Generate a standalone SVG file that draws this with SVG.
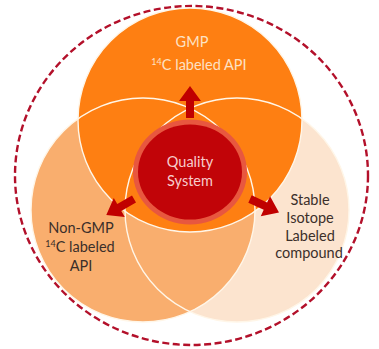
<svg xmlns="http://www.w3.org/2000/svg" width="379" height="349" viewBox="0 0 379 349">
<defs>
<style>
.venn-outline{fill:none;stroke:#fff6e8;stroke-width:1.4}
.lbl{font-family:Lato,"Liberation Sans",sans-serif;font-size:14.5px;text-anchor:middle}
.dark{fill:#3b2f2a}
.cream{fill:#fde2c4}
.pink{fill:#f7cccc}
.arrow{fill:#c00000}
</style>
<path id="arr" d="M0,-4 L17,-4 L17,-11 L32,0 L17,11 L17,4 L0,4 Z"/>
</defs>
<rect width="379" height="349" fill="#ffffff"/>
<g id="boundary">
<ellipse cx="191.5" cy="175.5" rx="176.5" ry="169.5" fill="none" stroke="#b3102a" stroke-width="2.4" stroke-dasharray="7 3.5"/>
</g>
<g id="stable-isotope">
<circle cx="237" cy="210" r="112" fill="#fce4cf"/>
</g>
<g id="non-gmp">
<circle cx="143" cy="210" r="112" fill="#f9ae6e"/>
</g>
<g id="gmp">
<circle cx="190" cy="120" r="112" fill="#fe7f12"/>
</g>
<g id="outlines">
<circle class="venn-outline" cx="237" cy="210" r="112"/>
<circle class="venn-outline" cx="143" cy="210" r="112"/>
<circle class="venn-outline" cx="190" cy="120" r="112"/>
</g>
<g id="quality-system">
<ellipse cx="190" cy="172" rx="57" ry="52.5" fill="#e8573f"/>
<ellipse cx="190" cy="172" rx="52" ry="47.5" fill="#c10408"/>
<text class="lbl pink" x="190" y="167" font-size="15">Quality</text>
<text class="lbl pink" x="190" y="186" font-size="15">System</text>
</g>
<g id="connectors">
<use href="#arr" class="arrow" transform="translate(190,118) rotate(-90)"/>
<use href="#arr" class="arrow" transform="translate(134,199) rotate(150)"/>
<use href="#arr" class="arrow" transform="translate(250,199) rotate(25)"/>
</g>
<g id="gmp-label">
<text class="lbl cream" x="192" y="47">GMP</text>
<text class="lbl cream" x="199" y="70"><tspan font-size="9" dy="-5">14</tspan><tspan dy="5">C labeled API</tspan></text>
</g>
<g id="non-gmp-label">
<text class="lbl dark" x="81" y="233">Non-GMP</text>
<text class="lbl dark" x="80" y="252"><tspan font-size="9" dy="-5">14</tspan><tspan dy="5">C labeled</tspan></text>
<text class="lbl dark" x="81" y="271">API</text>
</g>
<g id="stable-label">
<text class="lbl dark" x="310" y="205">Stable</text>
<text class="lbl dark" x="310" y="223">Isotope</text>
<text class="lbl dark" x="310" y="241">Labeled</text>
<text class="lbl dark" x="309" y="258">compound</text>
</g>
</svg>
